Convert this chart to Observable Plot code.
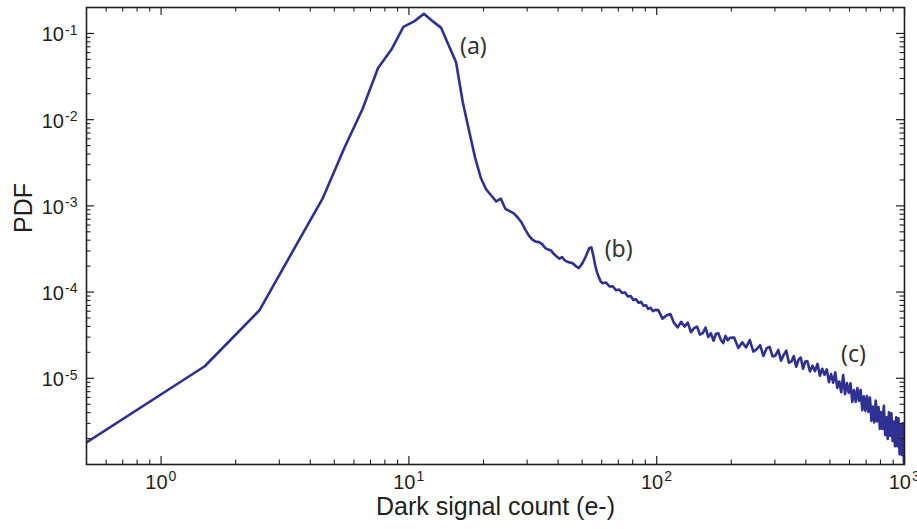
<!DOCTYPE html>
<html><head><meta charset="utf-8">
<script src="https://cdn.jsdelivr.net/npm/d3@7"></script>
<script src="https://cdn.jsdelivr.net/npm/@observablehq/plot@0.6"></script>
<style>html,body{margin:0;padding:0;background:#fff}#chart svg{display:block}</style>
</head><body><div id="chart"></div>
<script>
// ---- data ----
const coreCounts = [0.5,1.5,2.5,3.5,4.5,5.5,6.5,7.5,8.5,9.5,10.5,11.5,12.5,13.5,14.5,15.5,16.5,17.5,18.5,19.5,
  20.5,21.5,22.5,23.5,24.5,25.5,26.5,27.5,28.5,29.5,30.5,31.5,32.5,33.5,34.5,35.5,36.5,37.5,38.5,39.5,
  40.5,41.5,42.5,43.5,44.5,45.5,46.5,47.5,48.5,49.5,50.5,51.5,52.5,53.5,54.5,55.5,56.5,57.5,58.5,59.5,60.5];
const corePdf = [1.8e-6,1.38e-5,6.2e-5,3.46e-4,1.24e-3,4.75e-3,0.0133,0.0395,0.065,0.119,0.138,0.169,0.138,0.116,0.072,0.0464,0.0159,7.4e-3,3.63e-3,2.12e-3,
  1.55e-3,1.32e-3,1.13e-3,1.21e-3,9.25e-4,8.7e-4,8.17e-4,7.33e-4,6.41e-4,5.31e-4,4.52e-4,4.06e-4,3.85e-4,3.80e-4,3.60e-4,3.24e-4,3.11e-4,3.03e-4,2.76e-4,2.58e-4,
  2.44e-4,2.55e-4,2.34e-4,2.25e-4,2.21e-4,2.18e-4,2.08e-4,1.97e-4,1.90e-4,2.05e-4,2.25e-4,2.51e-4,2.87e-4,3.24e-4,3.30e-4,2.65e-4,2.02e-4,1.68e-4,1.47e-4,1.32e-4,1.27e-4];

const tailCounts = [62.5,64.5,66.5,68.5,70.5,72.5,74.5,76.5,78.5,80.5,82.5,84.5,86.5,88.5,90.5,92.5,94.5,96.5,98.5,
  101.5,105.5,109.5,113.5,117.5,121.5,125.5,129.5,133.5,137.5,141.5,145.5,149.5,153.5,157.5,161.5,165.5,169.5,173.5,177.5,181.5,185.5,189.5,193.5,197.5,
  205.5,213.5,221.5,229.5,237.5,245.5,253.5,261.5,269.5,277.5,285.5,293.5,301.5,309.5,317.5,325.5,333.5,341.5,349.5,357.5,365.5,373.5,381.5,389.5,397.5,
  405.5,415.5,425.5,435.5,445.5,455.5,465.5,475.5,485.5,495.5,505.5,515.5,525.5,535.5,545.5,555.5,565.5,575.5,585.5,595.5,
  605.5,615.5,625.5,635.5,645.5,655.5,665.5,675.5,685.5,695.5,705.5,715.5,725.5,735.5,745.5,755.5,765.5,775.5,785.5,795.5,
  805.5,815.5,825.5,835.5,845.5,855.5,865.5,875.5,885.5,895.5,905.5,915.5,925.5,935.5,945.5,955.5,965.5,975.5,985.5,995.5];
const tailPdf = [1.29e-4,1.16e-4,1.17e-4,1.05e-4,1.07e-4,9.77e-5,9.91e-5,8.89e-5,8.99e-5,8.09e-5,8.28e-5,7.50e-5,7.69e-5,6.92e-5,7.05e-5,6.37e-5,6.58e-5,6.01e-5,6.22e-5,
  6.17e-5,4.92e-5,5.36e-5,5.57e-5,4.39e-5,3.90e-5,4.52e-5,3.98e-5,4.42e-5,3.42e-5,3.82e-5,3.98e-5,3.21e-5,3.34e-5,3.87e-5,3.01e-5,3.32e-5,2.73e-5,3.28e-5,3.32e-5,2.79e-5,2.56e-5,3.10e-5,2.75e-5,2.95e-5,
  2.96e-5,2.25e-5,2.61e-5,2.28e-5,2.78e-5,2.04e-5,2.18e-5,2.42e-5,1.82e-5,2.22e-5,2.32e-5,1.79e-5,1.84e-5,2.13e-5,1.60e-5,1.87e-5,2.09e-5,1.52e-5,1.56e-5,1.81e-5,1.36e-5,1.64e-5,1.74e-5,1.29e-5,1.56e-5,
  1.58e-5,1.20e-5,1.40e-5,1.21e-5,1.47e-5,1.07e-5,1.29e-5,1.10e-5,1.27e-5,9.02e-6,1.12e-5,8.89e-6,1.17e-5,7.74e-6,9.18e-6,6.89e-6,1.09e-5,6.55e-6,8.81e-6,6.78e-6,
  8.75e-6,5.31e-6,7.29e-6,5.32e-6,7.69e-6,5.47e-6,7.33e-6,4.27e-6,6.18e-6,4.19e-6,6.22e-6,4.07e-6,5.97e-6,3.21e-6,4.71e-6,3.08e-6,5.50e-6,3.16e-6,4.65e-6,2.59e-6,
  4.06e-6,2.59e-6,4.79e-6,2.20e-6,3.53e-6,1.98e-6,4.02e-6,2.16e-6,3.92e-6,1.87e-6,3.14e-6,1.63e-6,3.52e-6,1.63e-6,3.44e-6,1.32e-6,2.93e-6,1.29e-6,3.00e-6,1.0e-6];

const xMajor = [1, 10, 100, 1000];
const xMajorExp = ["0", "1", "2", "3"];
const xMinor = [0.6,0.7,0.8,0.9, 2,3,4,5,6,7,8,9, 20,30,40,50,60,70,80,90, 200,300,400,500,600,700,800,900];
const yMajor = [1e-1, 1e-2, 1e-3, 1e-4, 1e-5];
const yMajorExp = ["-1", "-2", "-3", "-4", "-5"];
const yMinor = [2e-6,3e-6,4e-6,5e-6,6e-6,7e-6,8e-6,9e-6, 2e-5,3e-5,4e-5,5e-5,6e-5,7e-5,8e-5,9e-5,
  2e-4,3e-4,4e-4,5e-4,6e-4,7e-4,8e-4,9e-4, 2e-3,3e-3,4e-3,5e-3,6e-3,7e-3,8e-3,9e-3, 2e-2,3e-2,4e-2,5e-2,6e-2,7e-2,8e-2,9e-2];

const noteLabels = ["(a)", "(b)", "(c)"];
const noteX = [18.2, 70.2, 622];
const noteY = [0.070, 3.1e-4, 1.87e-5];

// ---- build tables ----
const series = coreCounts.map((c, i) => ({count: c, pdf: corePdf[i]}))
  .concat(tailCounts.map((c, i) => ({count: c, pdf: tailPdf[i]})));
const xTicks = xMajor.map((v, i) => ({v, exp: xMajorExp[i]}));
const yTicks = yMajor.map((v, i) => ({v, exp: yMajorExp[i]}));
const notes = noteLabels.map((t, i) => ({t, x: noteX[i], y: noteY[i]}));

const W = 917, H = 529, mL = 86, mR = 13, mT = 7, mB = 65;
const iw = W - mL - mR, ih = H - mT - mB;
const ink = "#231f20";
const font = "'Liberation Sans', Arial, Helvetica, sans-serif";

const chart = Plot.plot({
  width: W, height: H,
  marginLeft: mL, marginRight: mR, marginTop: mT, marginBottom: mB,
  style: {fontFamily: font, background: "#fff", color: ink},
  x: {type: "log", domain: [0.5, 1000], axis: null},
  y: {type: "log", domain: [1e-6, 0.2], axis: null},
  marks: [
    Plot.line(series, {x: "count", y: "pdf", stroke: "#2e3192", strokeWidth: 2.6, strokeLinejoin: "round", clip: true}),
    // inward ticks: bottom, top
    Plot.ruleX(xMajor, {x: d => d, insetTop: ih - 8, stroke: ink, strokeWidth: 1.2}),
    Plot.ruleX(xMajor, {x: d => d, insetBottom: ih - 8, stroke: ink, strokeWidth: 1.2}),
    Plot.ruleX(xMinor, {x: d => d, insetTop: ih - 4.5, stroke: ink, strokeWidth: 1.1}),
    Plot.ruleX(xMinor, {x: d => d, insetBottom: ih - 4.5, stroke: ink, strokeWidth: 1.1}),
    // inward ticks: left, right
    Plot.ruleY(yMajor, {y: d => d, insetRight: iw - 8, stroke: ink, strokeWidth: 1.2}),
    Plot.ruleY(yMajor, {y: d => d, insetLeft: iw - 8, stroke: ink, strokeWidth: 1.2}),
    Plot.ruleY(yMinor, {y: d => d, insetRight: iw - 4.5, stroke: ink, strokeWidth: 1.1}),
    Plot.ruleY(yMinor, {y: d => d, insetLeft: iw - 4.5, stroke: ink, strokeWidth: 1.1}),
    Plot.frame({stroke: ink, strokeWidth: 1.6}),
    // x tick labels 10^n
    Plot.text(xTicks, {x: "v", text: () => "10", frameAnchor: "bottom", textAnchor: "end", dx: 6.5, dy: 24.6, fontSize: 20, fill: ink}),
    Plot.text(xTicks, {x: "v", text: "exp", frameAnchor: "bottom", textAnchor: "start", dx: 7.5, dy: 16.5, fontSize: 14, fill: ink}),
    // y tick labels 10^-n
    Plot.text(yTicks, {y: "v", text: () => "10", frameAnchor: "left", textAnchor: "end", dx: -22.5, dy: 1.6, fontSize: 20, fill: ink}),
    Plot.text(yTicks, {y: "v", text: "exp", frameAnchor: "left", textAnchor: "start", dx: -21.5, dy: -3.2, fontSize: 14, fill: ink}),
    // axis titles
    Plot.text(["Dark signal count (e-)"], {frameAnchor: "bottom", dy: 50, fontSize: 25, fill: ink}),
    Plot.text(["PDF"], {frameAnchor: "left", dx: -62.3, dy: -3, rotate: -90, fontSize: 25, fill: ink}),
    // annotations
    Plot.text(notes, {x: "x", y: "y", text: "t", fontSize: 23, fontFamily: "'Noto Sans', 'Open Sans', sans-serif", fill: "#333"})
  ]
});
document.getElementById("chart").appendChild(chart);
</script>
</body></html>
